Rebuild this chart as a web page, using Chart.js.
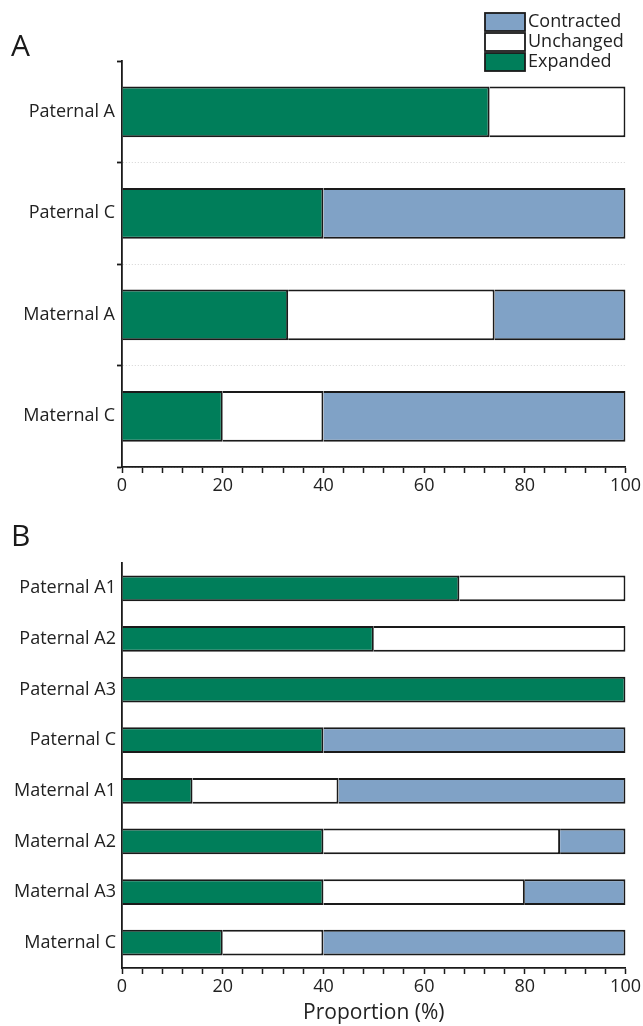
<!DOCTYPE html>
<html>
<head>
<meta charset="utf-8">
<script src="https://cdn.jsdelivr.net/npm/chart.js@4.4.1/dist/chart.umd.min.js"></script>
<style>
    html, body { margin: 0; padding: 0; background: #fff; }
    #wrap { position: relative; width: 643px; height: 1026px; font-family: "Open Sans", sans-serif; }
    canvas { position: absolute; left: 0; }
    .letter { position: absolute; left: 11px; font-size: 30px; line-height: 1; color: #1a1a1a; }
</style>
</head>
<body>
<div id="wrap">
    <canvas id="chartA" width="643" height="497" style="top:0"></canvas>
    <canvas id="chartB" width="643" height="531" style="top:495px"></canvas>
    <div class="letter" style="top:30px">A</div>
    <div class="letter" style="top:520px">B</div>
</div>
<script>
// --- datos ---
const seriesNames = ['Expanded', 'Unchanged', 'Contracted'];
const seriesColors = ['#007e5a', '#ffffff', '#80a2c6'];
const xTickLabels = [0, 20, 40, 60, 80, 100];

const categoriesA = ['Paternal A', 'Paternal C', 'Maternal A', 'Maternal C'];
const expandedA = [73, 40, 33, 20];
const unchangedA = [27, 0, 41, 20];
const contractedA = [0, 60, 26, 60];

const categoriesB = ['Paternal A1', 'Paternal A2', 'Paternal A3', 'Paternal C',
                     'Maternal A1', 'Maternal A2', 'Maternal A3', 'Maternal C'];
const expandedB = [67, 50, 100, 40, 14, 40, 40, 20];
const unchangedB = [33, 50, 0, 0, 29, 47, 40, 20];
const contractedB = [0, 0, 0, 60, 57, 13, 20, 60];

const INK = '#1a1a1a';
const FONT = '"Open Sans", sans-serif';

// leyenda apilada arriba a la derecha (Contracted arriba)
const stackLegend = {
    id: 'stackLegend',
    afterDraw(chart, args, opts) {
        if (!opts.show) return;
        const ctx = chart.ctx;
        const items = chart.data.datasets.slice().reverse();
        ctx.save();
        items.forEach(function(ds, i) {
            const y = opts.top + i * opts.row;
            ctx.fillStyle = ds.backgroundColor;
            ctx.fillRect(opts.left, y, opts.boxW, opts.row - 2);
            ctx.strokeStyle = INK;
            ctx.lineWidth = 1.8;
            ctx.strokeRect(opts.left, y, opts.boxW, opts.row - 2);
            ctx.fillStyle = '#222';
            ctx.font = '18px ' + FONT;
            ctx.textBaseline = 'middle';
            ctx.fillText(ds.label, opts.left + opts.boxW + 3, y + (opts.row - 2) / 2);
        });
        ctx.restore();
    }
};

function buildDatasets(series, barPct) {
    return series.map(function(values, i) {
        return {
            label: seriesNames[i],
            data: values,
            backgroundColor: seriesColors[i],
            borderColor: INK,
            borderWidth: 2,
            borderSkipped: 'start',
            barPercentage: barPct,
            categoryPercentage: 1
        };
    });
}

function renderStack(canvasId, categories, series, cfg) {
    const ctx = document.getElementById(canvasId);
    return new Chart(ctx, {
        type: 'bar',
        data: {
            labels: categories,
            datasets: buildDatasets(series, cfg.barPct)
        },
        plugins: [stackLegend],
        options: {
            indexAxis: 'y',
            responsive: false,
            animation: false,
            layout: { padding: cfg.padding },
            scales: {
                x: {
                    type: 'linear',
                    stacked: true,
                    min: 0,
                    max: 100,
                    afterFit: function(scale) { scale.height = cfg.xHeight; },
                    border: { color: INK, width: 1.8 },
                    grid: {
                        drawOnChartArea: false,
                        drawTicks: true,
                        tickLength: 6,
                        tickColor: INK,
                        tickWidth: 1.5
                    },
                    ticks: {
                        stepSize: 4,
                        autoSkip: false,
                        maxRotation: 0,
                        padding: 2,
                        color: '#222',
                        font: { family: FONT, size: 18 },
                        callback: function(value) {
                            return xTickLabels.includes(value) ? value : '';
                        }
                    },
                    title: {
                        display: !!cfg.xTitle,
                        text: cfg.xTitle || '',
                        color: '#222',
                        font: { family: FONT, size: 21 },
                        padding: { top: 0, bottom: 0 }
                    }
                },
                y: {
                    stacked: true,
                    afterFit: function(scale) { scale.width = 122; },
                    border: { color: INK, width: 1.8, dash: [1, 2] },
                    grid: {
                        offset: true,
                        display: true,
                        drawOnChartArea: cfg.dotted,
                        drawTicks: cfg.dotted,
                        tickLength: 5,
                        tickColor: INK,
                        tickWidth: 1.8,
                        lineWidth: 1,
                        color: function(c) {
                            return (c.index === 0 || c.index === categories.length) ? 'rgba(0,0,0,0)' : '#d4d4d4';
                        }
                    },
                    ticks: {
                        padding: cfg.dotted ? 2 : 6,
                        color: '#222',
                        font: { family: FONT, size: 18 }
                    }
                }
            },
            plugins: {
                legend: { display: false },
                tooltip: { enabled: false },
                stackLegend: cfg.legend
            }
        }
    });
}

renderStack('chartA', categoriesA, [expandedA, unchangedA, contractedA], {
    barPct: 0.5,
    padding: { top: 61, right: 16, bottom: 0, left: 0 },
    xHeight: 30,
    dotted: true,
    legend: { show: true, left: 485, top: 13, row: 20, boxW: 40 }
});

renderStack('chartB', categoriesB, [expandedB, unchangedB, contractedB], {
    barPct: 0.51,
    padding: { top: 68, right: 17, bottom: 0, left: 0 },
    xHeight: 58,
    xTitle: 'Proportion (%)',
    dotted: false,
    legend: { show: false }
});
</script>
</body>
</html>
